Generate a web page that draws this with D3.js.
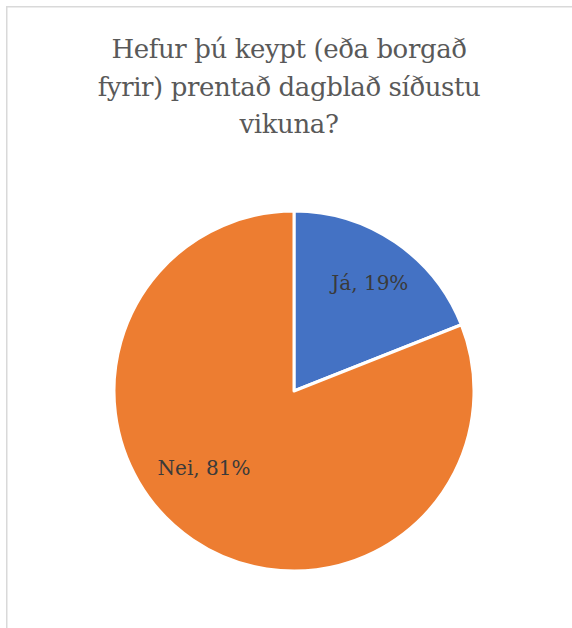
<!DOCTYPE html>
<html>
<head>
<meta charset="utf-8">
<script src="https://cdn.jsdelivr.net/npm/d3@7"></script>
<style>
  html, body { margin: 0; padding: 0; background: #ffffff; }
  svg { display: block; }
</style>
</head>
<body>
<svg id="chart" width="572" height="628"></svg>
<script>
// ---- Data ----
const titleLines = ["Hefur þú keypt (eða borgað", "fyrir) prentað dagblað síðustu", "vikuna?"];
const categories = ["Já", "Nei"];
const values = [19, 81];
const colors = ["#4472C4", "#ED7D31"];

// ---- Layout ----
const W = 572, H = 628;
const cx = 294, cy = 391, R = 180;
const titleX = 289, titleY0 = 58, titleLH = 37.5;
const serif = "'DejaVu Serif', 'Liberation Serif', serif";
// label placement (polar: degrees clockwise from 12 o'clock, radius) – styling, not data
const labelPlacement = [{ang: 37, r: 126}, {ang: 227, r: 123}];

const svg = d3.select("#chart");

// chart border (Excel chart area edge)
svg.append("rect")
  .attr("x", 6.75).attr("y", 6.75)
  .attr("width", 700).attr("height", 700)
  .attr("fill", "none")
  .attr("stroke", "#d9d9d9")
  .attr("stroke-width", 1.5);

// title
const title = svg.append("text")
  .attr("x", titleX)
  .attr("text-anchor", "middle")
  .style("font-family", serif)
  .style("font-size", "26px")
  .style("letter-spacing", "-0.4px")
  .attr("fill", "#595959");
title.selectAll("tspan").data(titleLines).join("tspan")
  .attr("x", titleX)
  .attr("y", (d, i) => titleY0 + i * titleLH)
  .text(d => d);

// pie
const data = categories.map((c, i) => ({cat: c, value: values[i], color: colors[i]}));
const pie = d3.pie().value(d => d.value).sort(null);
const arc = d3.arc().innerRadius(0).outerRadius(R);
const arcs = pie(data);

const g = svg.append("g").attr("transform", `translate(${cx},${cy})`);
g.selectAll("path").data(arcs).join("path")
  .attr("d", arc)
  .attr("fill", d => d.data.color)
  .attr("stroke", "#ffffff")
  .attr("stroke-width", 3)
  .attr("stroke-linejoin", "round");

// labels
const total = d3.sum(values);
g.selectAll("text.lbl").data(arcs).join("text")
  .attr("class", "lbl")
  .attr("text-anchor", "middle")
  .style("font-family", serif)
  .style("font-size", "20px")
  .attr("fill", "#3a3a3a")
  .attr("x", (d, i) => labelPlacement[i].r * Math.sin(labelPlacement[i].ang * Math.PI / 180))
  .attr("y", (d, i) => -labelPlacement[i].r * Math.cos(labelPlacement[i].ang * Math.PI / 180))
  .text(d => `${d.data.cat}, ${Math.round(d.data.value / total * 100)}%`);
</script>
</body>
</html>
